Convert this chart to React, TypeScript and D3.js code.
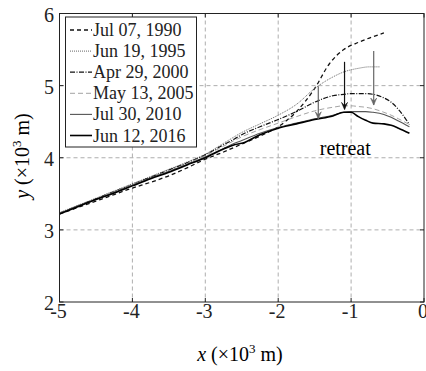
import React, { useRef, useEffect } from "react";
import * as d3 from "d3";

// shared x positions (x10^3 m)
const xsFull = [-5, -4.75, -4.5, -4.25, -4, -3.75, -3.5, -3.25, -3, -2.75, -2.6, -2.5, -2.25, -2, -1.75, -1.5, -1.25, -1.1, -1, -0.9, -0.8, -0.7, -0.55, -0.45, -0.35, -0.2];
const xs1995 = [-5, -4.75, -4.5, -4.25, -4, -3.75, -3.5, -3.25, -3, -2.75, -2.5, -2.25, -2, -1.75, -1.5, -1.25, -1.1, -0.9, -0.75, -0.6];
const xs1990 = [-5, -4.75, -4.5, -4.25, -4, -3.75, -3.5, -3.25, -3, -2.75, -2.5, -2.25, -2, -1.75, -1.5, -1.3, -1.1, -0.9, -0.75, -0.55];

const y1990 = [3.22, 3.31, 3.4, 3.49, 3.58, 3.66, 3.75, 3.86, 3.98, 4.08, 4.19, 4.3, 4.43, 4.64, 4.96, 5.3, 5.5, 5.6, 5.66, 5.73];
const y1995 = [3.24, 3.34, 3.44, 3.54, 3.64, 3.74, 3.84, 3.94, 4.05, 4.2, 4.35, 4.47, 4.59, 4.74, 4.96, 5.12, 5.19, 5.24, 5.26, 5.26];
const y2000 = [3.23, 3.33, 3.43, 3.53, 3.63, 3.73, 3.83, 3.93, 4.04, 4.18, 4.26, 4.32, 4.43, 4.53, 4.64, 4.77, 4.86, 4.88, 4.89, 4.89, 4.89, 4.88, 4.83, 4.77, 4.67, 4.46];
const y2005 = [3.23, 3.33, 3.43, 3.53, 3.63, 3.72, 3.82, 3.92, 4.03, 4.16, 4.24, 4.29, 4.39, 4.48, 4.57, 4.65, 4.7, 4.72, 4.72, 4.71, 4.7, 4.68, 4.63, 4.59, 4.54, 4.46];
const y2010 = [3.23, 3.33, 3.42, 3.52, 3.62, 3.72, 3.81, 3.91, 4.01, 4.13, 4.2, 4.24, 4.34, 4.42, 4.48, 4.54, 4.59, 4.63, 4.64, 4.64, 4.64, 4.63, 4.6, 4.56, 4.51, 4.43];
const y2016 = [3.22, 3.32, 3.42, 3.51, 3.61, 3.71, 3.8, 3.9, 4.0, 4.12, 4.18, 4.2, 4.32, 4.41, 4.47, 4.53, 4.58, 4.63, 4.63, 4.57, 4.52, 4.48, 4.47, 4.45, 4.41, 4.34];

const labels = ["Jul 07, 1990", "Jun 19, 1995", "Apr 29, 2000", "May 13, 2005", "Jul 30, 2010", "Jun 12, 2016"];

// retreat arrows
const arrowX = [-1.45, -1.09, -0.69];
const arrowFrom = [4.99, 5.33, 5.48];
const arrowTo = [4.54, 4.67, 4.73];

const xTicks = [-5, -4, -3, -2, -1, 0];
const yTicks = [2, 3, 4, 5, 6];

const FONT = "'Liberation Serif', 'Times New Roman', serif";

const App = () => {
  const svgRef = useRef<SVGSVGElement>(null);

  useEffect(() => {
    if (!svgRef.current) return;
    const svg = d3.select(svgRef.current);
    svg.selectAll("*").remove();

    const left = 59.5, right = 424, top = 13.5, bottom = 302;
    const x = d3.scaleLinear().domain([-5, 0]).range([left, right]);
    const y = d3.scaleLinear().domain([2, 6]).range([bottom, top]);

    const series = [
      { xs: xs1990, ys: y1990, color: "#111", width: 1.3, dash: "4,3" },
      { xs: xs1995, ys: y1995, color: "#666", width: 1, dash: "1,1" },
      { xs: xsFull, ys: y2000, color: "#111", width: 1.2, dash: "5,1.5,1,1.5" },
      { xs: xsFull, ys: y2005, color: "#999", width: 0.9, dash: "5,3" },
      { xs: xsFull, ys: y2010, color: "#555", width: 1.1, dash: null },
      { xs: xsFull, ys: y2016, color: "#000", width: 1.6, dash: null },
    ];

    // grid
    const grid = svg.append("g").attr("stroke", "#999").attr("stroke-width", 0.8).attr("stroke-dasharray", "4,3");
    xTicks.slice(1, -1).forEach((t) => {
      grid.append("line").attr("x1", x(t)).attr("x2", x(t)).attr("y1", top).attr("y2", bottom);
    });
    yTicks.slice(1, -1).forEach((t) => {
      grid.append("line").attr("x1", left).attr("x2", right).attr("y1", y(t)).attr("y2", y(t));
    });

    // curves
    const line = d3
      .line<[number, number]>()
      .x((d) => x(d[0]))
      .y((d) => y(d[1]))
      .curve(d3.curveMonotoneX);

    series.forEach((s) => {
      const pts = s.xs.map((v, i) => [v, s.ys[i]] as [number, number]);
      svg
        .append("path")
        .attr("d", line(pts))
        .attr("fill", "none")
        .attr("stroke", s.color)
        .attr("stroke-width", s.width)
        .attr("stroke-dasharray", s.dash ?? null);
    });

    // arrows
    arrowX.forEach((ax, i) => {
      const c = i === 1 ? "#111" : "#666";
      const px = x(ax);
      const y0 = y(arrowFrom[i]);
      const y1 = y(arrowTo[i]);
      svg.append("line").attr("x1", px).attr("x2", px).attr("y1", y0).attr("y2", y1).attr("stroke", c).attr("stroke-width", 1.2);
      svg
        .append("path")
        .attr("d", `M${px - 3},${y1 - 7} L${px},${y1} L${px + 3},${y1 - 7} L${px},${y1 - 4} Z`)
        .attr("fill", c)
        .attr("stroke", c)
        .attr("stroke-width", 0.6);
    });

    svg
      .append("text")
      .attr("x", x(-1.08))
      .attr("y", 155)
      .attr("text-anchor", "middle")
      .attr("font-family", FONT)
      .attr("font-size", 20)
      .text("retreat");

    // frame + inward ticks
    svg
      .append("rect")
      .attr("x", left)
      .attr("y", top)
      .attr("width", right - left)
      .attr("height", bottom - top)
      .attr("fill", "none")
      .attr("stroke", "#222")
      .attr("stroke-width", 1);

    const ticks = svg.append("g").attr("stroke", "#222").attr("stroke-width", 1);
    xTicks.forEach((t) => {
      ticks.append("line").attr("x1", x(t)).attr("x2", x(t)).attr("y1", bottom).attr("y2", bottom - 4);
      ticks.append("line").attr("x1", x(t)).attr("x2", x(t)).attr("y1", top).attr("y2", top + 4);
    });
    yTicks.forEach((t) => {
      ticks.append("line").attr("x1", left).attr("x2", left + 4).attr("y1", y(t)).attr("y2", y(t));
      ticks.append("line").attr("x1", right).attr("x2", right - 4).attr("y1", y(t)).attr("y2", y(t));
    });

    const tl = svg.append("g").attr("font-family", FONT).attr("font-size", 20).attr("fill", "#222");
    xTicks.forEach((t) => {
      tl.append("text").attr("x", x(t) - 1).attr("y", bottom + 16).attr("text-anchor", "middle").text(String(t));
    });
    yTicks.forEach((t) => {
      tl.append("text").attr("x", 54).attr("y", y(t) + 8).attr("text-anchor", "end").text(String(t));
    });

    // axis labels
    const xl = svg
      .append("text")
      .attr("x", 240)
      .attr("y", 361)
      .attr("text-anchor", "middle")
      .attr("font-family", FONT)
      .attr("font-size", 20);
    xl.append("tspan").attr("font-style", "italic").text("x");
    xl.append("tspan").text(" (\u00d710");
    xl.append("tspan").attr("font-size", 13).attr("dy", -8).text("3");
    xl.append("tspan").attr("dy", 8).text(" m)");

    const yl = svg
      .append("text")
      .attr("transform", "translate(29,156) rotate(-90)")
      .attr("text-anchor", "middle")
      .attr("font-family", FONT)
      .attr("font-size", 20);
    yl.append("tspan").attr("font-style", "italic").text("y");
    yl.append("tspan").text(" (\u00d710");
    yl.append("tspan").attr("font-size", 13).attr("dy", -8).text("3");
    yl.append("tspan").attr("dy", 8).text(" m)");

    // legend
    const legend = svg.append("g");
    legend
      .append("rect")
      .attr("x", 65.5)
      .attr("y", 17)
      .attr("width", 131)
      .attr("height", 130)
      .attr("fill", "#fff")
      .attr("stroke", "#222")
      .attr("stroke-width", 1);
    labels.forEach((lab, i) => {
      const cy = 30 + i * 21.1;
      const s = series[i];
      legend
        .append("line")
        .attr("x1", 70)
        .attr("x2", 92)
        .attr("y1", cy)
        .attr("y2", cy)
        .attr("stroke", s.color)
        .attr("stroke-width", s.width)
        .attr("stroke-dasharray", s.dash ?? null);
      legend
        .append("text")
        .attr("x", 93)
        .attr("y", cy + 6)
        .attr("font-family", FONT)
        .attr("font-size", 18)
        .attr("fill", "#222")
        .text(lab);
    });
  }, []);

  return (
    <svg
      ref={svgRef}
      width={426}
      height={371}
      style={{ position: "absolute", left: 0, top: 0, background: "#fff" }}
    ></svg>
  );
};

export default App;
